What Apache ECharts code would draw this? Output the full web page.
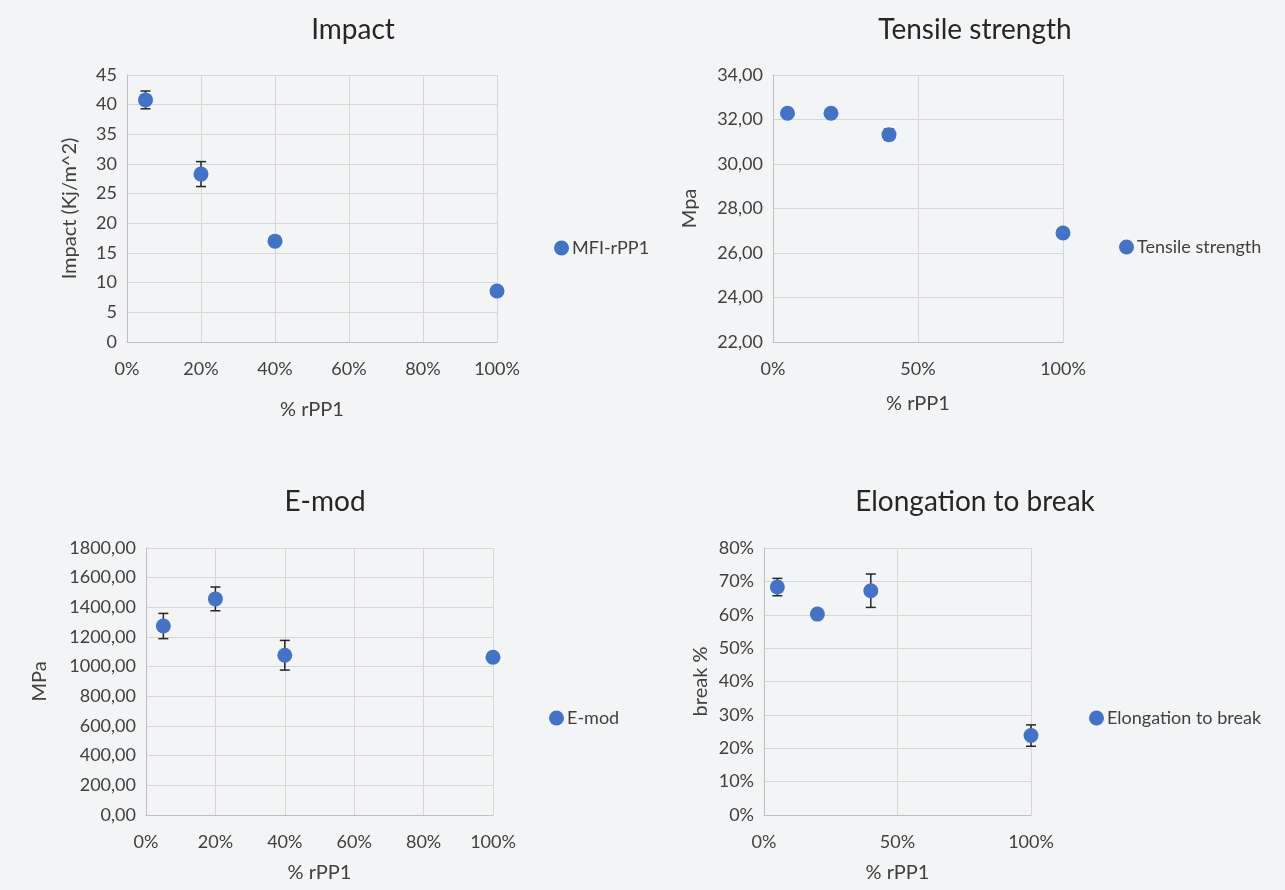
<!DOCTYPE html>
<html>
<head>
<meta charset="utf-8">
<script src="https://cdn.jsdelivr.net/npm/echarts@6/dist/echarts.min.js"></script>
<style>
  html, body { margin: 0; padding: 0; background: #f3f4f5; }
  #chart { width: 1285px; height: 890px; }
</style>
</head>
<body>
<div id="chart"></div>
<script>
// % rPP1 share for every sample
const rppShare = [0.05, 0.2, 0.4, 1.0]

const impactVals = [40.8, 28.3, 17.0, 8.6]
const impactErr = [1.5, 2.1, 0.6, 0]

const tensileVals = [32.28, 32.28, 31.32, 26.9]
const tensileErr = [0, 0, 0.25, 0]

const emodVals = [1274, 1457, 1077, 1063]
const emodErr = [85, 80, 100, 0]

const elongVals = [0.683, 0.602, 0.672, 0.238]
const elongErr = [0.026, 0, 0.05, 0.032]

const titles = ['Impact', 'Tensile strength', 'E-mod', 'Elongation to break']
const seriesNames = ['MFI-rPP1', 'Tensile strength', 'E-mod', 'Elongation to break']
const yNames = ['Impact (Kj/m^2)', 'Mpa', 'MPa', 'break %']

const blue = '#4472C4'
const textColor = '#404040'
const gridColor = '#d6d6d6'
const fontFamily = 'Lato, "Open Sans", sans-serif'

const myChart = echarts.init(document.getElementById('chart'))

const pct = v => Math.round(v * 100) + '%'
const comma = v => v.toFixed(2).replace('.', ',')

const grids = [
  { left: 127, top: 75, width: 370, height: 267 },
  { left: 773, top: 75, width: 290, height: 267 },
  { left: 146, top: 548, width: 347, height: 267 },
  { left: 764, top: 548, width: 267, height: 267 }
]

const xSteps = [0.2, 0.5, 0.2, 0.5]
const yAxes = [
  { min: 0, max: 45, interval: 5, fmt: v => String(v), gap: 47 },
  { min: 22, max: 34, interval: 2, fmt: comma, gap: 73 },
  { min: 0, max: 1800, interval: 200, fmt: comma, gap: 96 },
  { min: 0, max: 0.8, interval: 0.1, fmt: pct, gap: 53 }
]
const xNameGaps = [58, 52, 48, 48]

const valueSets = [impactVals, tensileVals, emodVals, elongVals]
const errSets = [impactErr, tensileErr, emodErr, elongErr]

function errorBars(idx) {
  const data = []
  for (let i = 0; i < rppShare.length; i++) {
    if (errSets[idx][i] > 0) {
      data.push([rppShare[i], valueSets[idx][i] - errSets[idx][i], valueSets[idx][i] + errSets[idx][i]])
    }
  }
  return {
    type: 'custom',
    xAxisIndex: idx,
    yAxisIndex: idx,
    z: 1,
    silent: true,
    data: data,
    renderItem: function(params, api) {
      const lo = api.coord([api.value(0), api.value(1)])
      const hi = api.coord([api.value(0), api.value(2)])
      const w = 5
      const style = { stroke: '#262626', lineWidth: 1.5 }
      return {
        type: 'group',
        children: [
          { type: 'line', shape: { x1: lo[0], y1: lo[1], x2: hi[0], y2: hi[1] }, style: style },
          { type: 'line', shape: { x1: lo[0] - w, y1: lo[1], x2: lo[0] + w, y2: lo[1] }, style: style },
          { type: 'line', shape: { x1: hi[0] - w, y1: hi[1], x2: hi[0] + w, y2: hi[1] }, style: style }
        ]
      }
    }
  }
}

const titleCenters = [[348, 11], [970, 11], [320, 483], [970, 483]]
const legendPos = [[549, 234], [1114, 233], [544, 704], [1084, 704]]

const option = {
  backgroundColor: '#f3f4f5',
  textStyle: { fontFamily: fontFamily },
  title: titles.map((t, i) => ({
    text: t,
    left: titleCenters[i][0],
    top: titleCenters[i][1],
    textAlign: 'center',
    textStyle: { fontSize: 28, fontWeight: 'normal', color: '#262626', fontFamily: fontFamily }
  })),
  legend: seriesNames.map((n, i) => ({
    data: [n],
    left: legendPos[i][0],
    top: legendPos[i][1],
    icon: 'circle',
    itemWidth: 15,
    itemHeight: 15,
    itemGap: 4,
    textStyle: { fontSize: 18, color: textColor, fontFamily: fontFamily, padding: [0, 0, 0, -2] }
  })),
  grid: grids,
  xAxis: grids.map((g, i) => ({
    type: 'value',
    gridIndex: i,
    min: 0,
    max: 1,
    interval: xSteps[i],
    name: '% rPP1',
    nameLocation: 'middle',
    nameGap: xNameGaps[i],
    nameTextStyle: { fontSize: 20, color: textColor },
    axisLine: { show: true, onZero: false, lineStyle: { color: '#bfbfbf', width: 1 } },
    axisTick: { show: false },
    axisLabel: { formatter: pct, fontSize: 18, color: textColor, margin: 18 },
    splitLine: { show: true, lineStyle: { color: gridColor, width: 1 } }
  })),
  yAxis: yAxes.map((a, i) => ({
    type: 'value',
    gridIndex: i,
    min: a.min,
    max: a.max,
    interval: a.interval,
    name: yNames[i],
    nameLocation: 'middle',
    nameRotate: 90,
    nameGap: a.gap,
    nameTextStyle: { fontSize: 20, color: textColor },
    axisLine: { show: true, lineStyle: { color: '#bfbfbf', width: 1 } },
    axisTick: { show: false },
    axisLabel: { formatter: a.fmt, fontSize: 18, color: textColor, margin: 10 },
    splitLine: { show: true, lineStyle: { color: gridColor, width: 1 } }
  })),
  series: []
}

for (let i = 0; i < 4; i++) {
  option.series.push(errorBars(i))
  option.series.push({
    name: seriesNames[i],
    type: 'scatter',
    xAxisIndex: i,
    yAxisIndex: i,
    z: 2,
    symbol: 'circle',
    symbolSize: 15,
    itemStyle: { color: blue, opacity: 1 },
    data: rppShare.map((x, k) => [x, valueSets[i][k]])
  })
}

myChart.setOption(option)
</script>
</body>
</html>
